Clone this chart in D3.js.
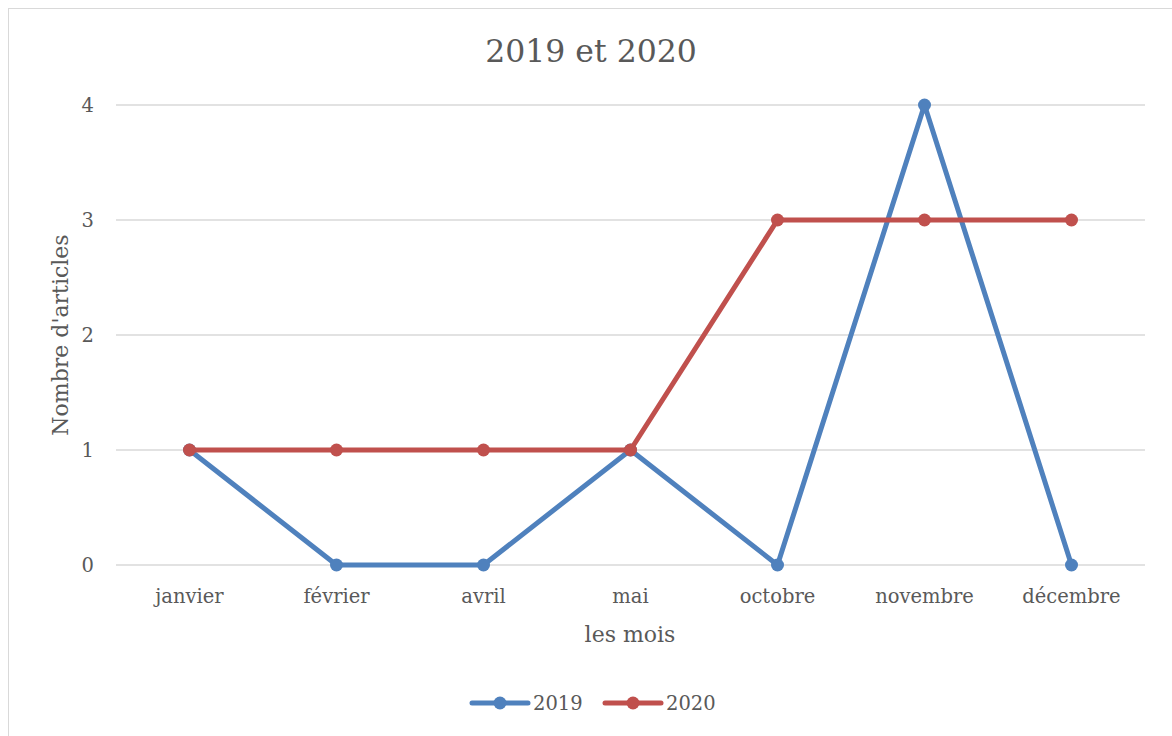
<!DOCTYPE html>
<html><head><meta charset="utf-8">
<script src="https://cdn.jsdelivr.net/npm/d3@7"></script>
<style>body{margin:0;background:#fff}svg{display:block}text{font-family:"DejaVu Serif",serif;fill:#595959}</style>
</head><body>
<svg id="c" width="1172" height="736"></svg>
<script>
const months = ["janvier","février","avril","mai","octobre","novembre","décembre"];
const values2019 = [1,0,0,1,0,4,0];
const values2020 = [1,1,1,1,3,3,3];
const seriesNames = ["2019","2020"];
const colors = ["#4F81BD","#C0504D"];
const yTicks = [0,1,2,3,4];

const svg = d3.select("#c");
svg.append("rect").attr("x",8.5).attr("y",8.5).attr("width",1180).attr("height",740)
  .attr("fill","#fff").attr("stroke","#d9d9d9").attr("stroke-width",1);

const x = d3.scaleBand().domain(months).range([116,1145]);
const y = d3.scaleLinear().domain([0,4]).range([565,105]);

// gridlines
const g = svg.append("g");
g.selectAll("line").data(yTicks).join("line")
  .attr("x1",116).attr("x2",1145).attr("y1",d=>y(d)).attr("y2",d=>y(d))
  .attr("stroke","#d9d9d9").attr("stroke-width",1.5);

// y axis
const ya = svg.append("g").attr("transform","translate(116,0)")
  .call(d3.axisLeft(y).tickValues(yTicks).tickSize(0).tickPadding(22).tickFormat(d3.format("d")));
ya.select(".domain").remove();
ya.selectAll("text").attr("font-size",19.5).attr("font-family","DejaVu Serif").attr("fill","#595959");

// x axis
const xa = svg.append("g").attr("transform","translate(0,565)")
  .call(d3.axisBottom(x).tickSize(0).tickPadding(24));
xa.select(".domain").remove();
xa.selectAll("text").attr("font-size",19.5).attr("font-family","DejaVu Serif").attr("fill","#595959");

const series = [values2019, values2020];
const line = d3.line().x((d,i)=>x(months[i])+x.bandwidth()/2).y(d=>y(d));
series.forEach((vals,si)=>{
  svg.append("path").datum(vals).attr("d",line).attr("fill","none")
    .attr("stroke",colors[si]).attr("stroke-width",5).attr("stroke-linejoin","round").attr("stroke-linecap","round");
  svg.append("g").selectAll("circle").data(vals).join("circle")
    .attr("cx",(d,i)=>x(months[i])+x.bandwidth()/2).attr("cy",d=>y(d)).attr("r",6.5).attr("fill",colors[si]);
});

// title
svg.append("text").attr("x",591).attr("y",62).attr("text-anchor","middle").attr("font-size",31.5).text("2019 et 2020");
// axis titles
svg.append("text").attr("x",630).attr("y",642).attr("text-anchor","middle").attr("font-size",22).text("les mois");
svg.append("text").attr("transform","translate(68,335) rotate(-90)").attr("text-anchor","middle").attr("font-size",22).text("Nombre d'articles");

// legend
const legX = [472, 605];
seriesNames.forEach((n,i)=>{
  const lg = svg.append("g");
  lg.append("line").attr("x1",legX[i]).attr("x2",legX[i]+56).attr("y1",703).attr("y2",703)
    .attr("stroke",colors[i]).attr("stroke-width",5).attr("stroke-linecap","round");
  lg.append("circle").attr("cx",legX[i]+28).attr("cy",703).attr("r",6.5).attr("fill",colors[i]);
  lg.append("text").attr("x",legX[i]+61).attr("y",710).attr("font-size",19.5).text(n);
});
</script>
</body></html>
